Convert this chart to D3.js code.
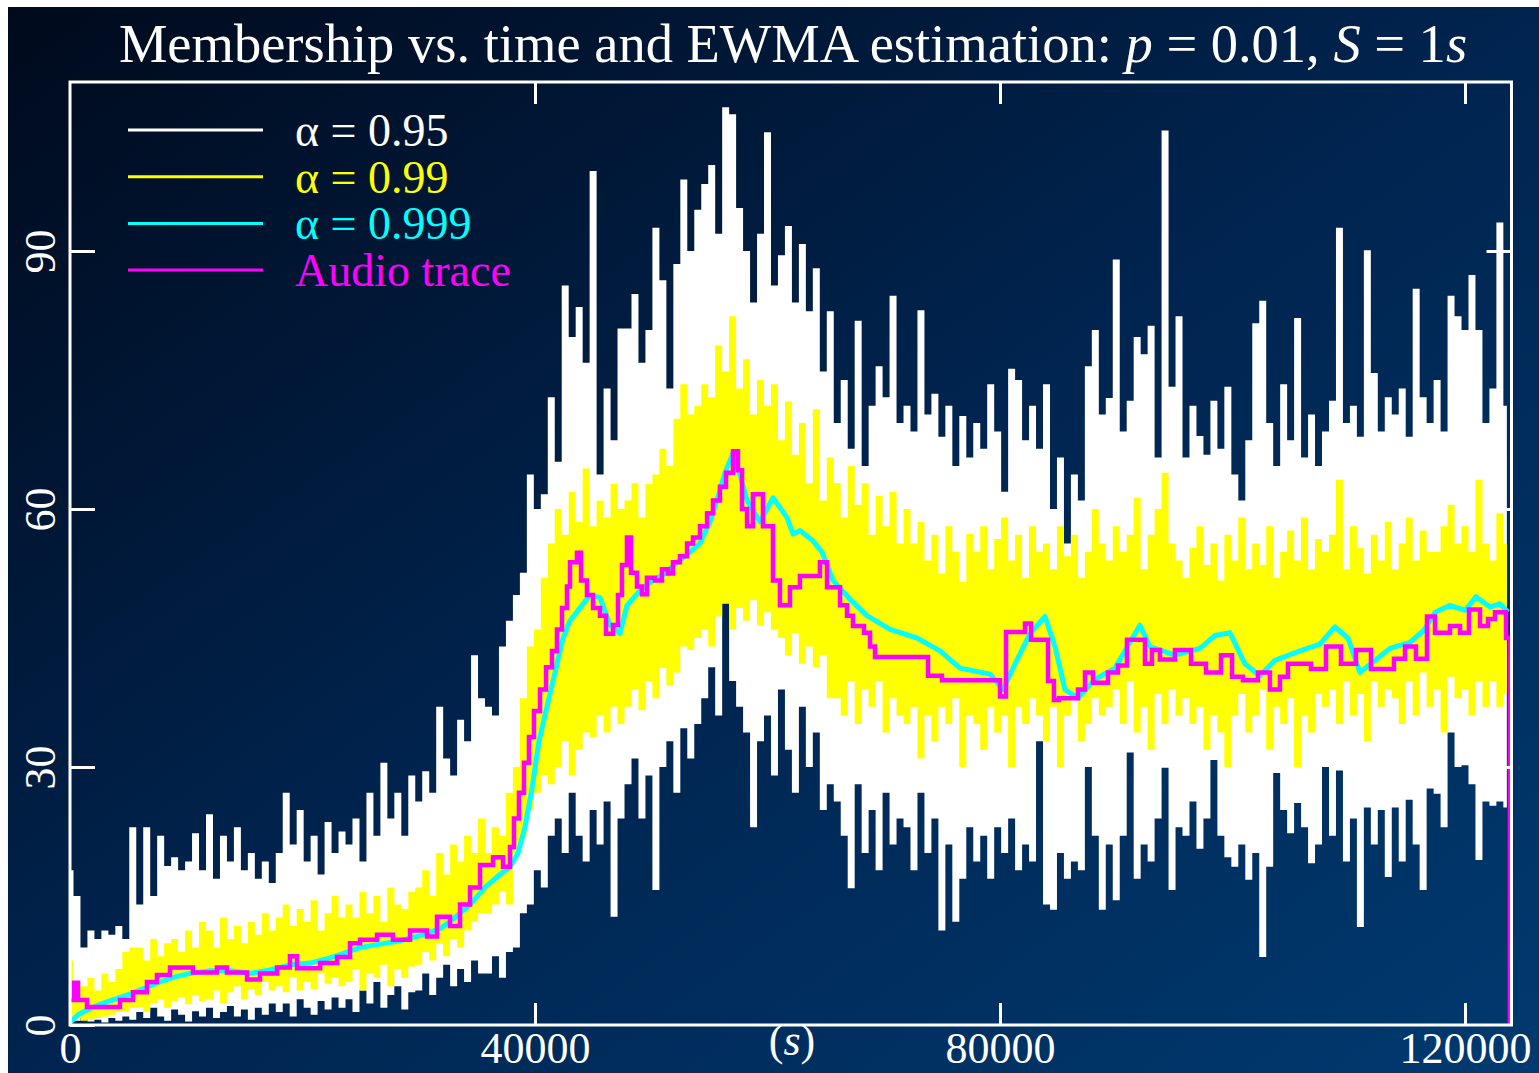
<!DOCTYPE html>
<html><head><meta charset="utf-8">
<script src="https://cdn.jsdelivr.net/npm/d3@7"></script>
<style>html,body{margin:0;padding:0;background:#fff;overflow:hidden} text{white-space:pre}</style>
</head><body><svg id="c" width="1539" height="1073"></svg>
<script>
// sampling interval of the alpha=0.95 / 0.99 envelopes (seconds)
const sampleStep = 600;

// alpha = 0.95 : upper / lower envelope per 600 s bin
const whiteHi = [
18,15,9,11,10,11,10.5,11.5,10,23,
14,23,15,22,18.5,19.5,18,19,22.3,18,
24.5,17,22,19,23,18,20,17,19,16.5,
20,27,21,25,19,22,17.5,23.6,20,22.5,
21,24,19,27,22,30.5,24,27,22,29,
26,29.5,27,37,31,29,35.5,33,43,38,
37,36,44,47,50,52.6,64,60,61.7,73,
65.5,86,80,83.5,77,99.3,64,74,68,81,
81,85,77,80.8,92.7,86.6,74,88.5,98.3,90,
94.8,97.8,100,92,106.7,105.9,95,90,84,92,
103.8,86,89.5,92.9,84,90.8,83,88,76,83,
70,75,67,81.9,65,72,76.6,73,84.8,70,
72,69,83.1,71,73.4,68.4,72,65,70.8,66,
70,67,74.5,69,62,76.3,75,68,72,67,
74.5,60,66,56,64,61,76.6,80.8,71,72.9,
89,69,72.6,80,78,81.3,66,104,74.2,82.4,
66,72,68.5,66.3,72.6,67,74.2,64,61,68,
81.6,84.2,70,65,74.5,68,82.2,66,71,65,
69,72.6,92.7,70,72,68.4,90.1,75.8,69,73,
71,74,68.4,85.6,73,70,75,69,84.8,82.4,
80.8,87.2,80.8,70,74,93.3,72];
const whiteLo = [
0.3,0.5,0.8,0.4,0.6,0.3,0.8,0.5,1,0.6,
1.5,0.8,2,1,0.5,1.8,1.2,0.4,1.6,1,
2,0.8,1.5,2.2,1,1.8,0.6,2,1.2,2.5,
1.5,2.5,1,3,2,1.2,2.8,1.8,3.2,2,
3,1.5,4,2.5,5,2,3.5,4.5,1.8,3.8,
4,6,3.5,5.5,7,4.5,6.5,5,7.5,6,
6,8,5.5,8.5,9,13,14,18,16,22,
24,20,27,22,19,25,21,26,12.6,24,
28,31,24,29,15.7,30,33,27,34.5,31,
35,38,41.6,36,49,40,37,34,23,33,
36,29,39,32,27,37,30,34,25,28,
26,22,15.9,28,20,25,18,27,21,24,
23,18,27,20,24,11,21,12,17,23,
19,22,17,23,20,24,18,21,19,33,
14,13.4,20,17,19,18,30,22,13.4,21,
14.5,22,31.7,17,21,19,24,29.9,15.7,23,
22,26,20.5,24,30.8,22,19.5,18.4,21,16.9,
20,7.9,18.4,29.3,25,22.3,25.8,23,18.8,21,
30,22,29.6,19,24,11.4,25.3,21,25,17.2,
25.3,19,26.2,21,15.7,27.5,26.9,23,34,30,
30.2,28,19.2,26,25.5,26,25.3];

// alpha = 0.99 : upper / lower envelope per 600 s bin
const yellowHi = [
7.5,5,4.5,5.5,4,6,5,6.5,8.5,9,
9,7.5,10,8,9.5,10,8.5,11,9,12,
11,9,12.5,10,11.5,9.5,12,10.5,13,11,
12.5,14,11.5,13.5,12,14.5,11,13,15,12.5,
14,12.5,15.5,13,15,12,16,14,13.5,15.5,
16,18,15,20,17.5,21,19,22,20,24,
20,23,22,27,30,38,44,46,52,56,
60,57,62,58.5,64.7,58,61,59,62.9,60,
61,63,59,62.9,64,67,65,70.5,74.5,71,
72,74.5,73,79,76,82.4,74,77.4,71,75,
72,74.5,68,72.5,66.3,70,63,71.6,61,66,
63,59,65,60.5,63,57,61.5,58,62,56,
60,56,58.5,54,57,52.5,58,55,51.5,57.1,
55,58,53,56.5,59,54,57,52,58,55,
56,53,58,54.5,57,52,55,60,56,54,
58,55,57,61.3,53,57,60,64.2,56,54,
52,55.5,58,53.5,56,51.7,57,54,59,53,
56,53.5,58,52,55,57.5,54,59,53,56.5,
55,57,63.4,53,58,55.5,52.5,57,54,58.5,
53,56,59,54,57.5,55,55,58,60.5,56,
58,55,63.4,56,54,59.5,56];
const yellowLo = [
1,0.8,0.5,0.6,0.8,1,1.2,1.5,1.5,2,
2,1.5,2.5,3,2,2.8,3.2,2.4,3.5,2.8,
3,4,2.5,3.8,4.5,3,4.2,3.5,5,4,
4.5,3.8,5.5,4,5,4.2,6,4.8,5.5,4.5,
5,6.5,4,6,5.5,7,4.5,6.5,5.5,6.8,
7,8.5,7.5,9.5,8,10,9,11,12,13,
13,14,15.5,14,20,22,25,27,29,28,
30,33,29,32,34,33.5,36,34,37,35,
37,39,36.6,40,38,41.5,39.5,41,44,43.6,
45,46,44,47.5,49,46,48.5,47,49.4,46.5,
48,46,45,43,45.5,42,44,41.6,43,38,
38,36,40,35,39,37,40,34,38,36,
35,37,31,36,33,37,35,38,30,36,
35,32,37,34,36,30,37,35,38,36,
33,37,30,36,38,33,35,38,36,37,
39,35,40,34,37,32,38.5,35,39,36,
38,35,37,32,36,34,30,36,38.5,34,
36,39,32,37,35,38,30,36,34,38.5,
37,39,35,40,36,38.5,33,40,37,39,
38,35,40,36,41,37,39,34,40.5,38,
39,36,40,37,40,37,38.5];

// alpha = 0.999 (time s, members)
const cyanT = [0,690,1550,2580,3870,5160,6450,7740,9030,10320,12040,13760,15480,17200,18920,20640,22370,23660,24950,26670,28390,30110,31830,33120,34410,35700,36990,37850,38540,39140,39740,40340,41200,41810,42410,43010,43870,44730,45590,46450,47310,47910,49030,50150,51180,51870,52900,54190,55050,55650,56340,57030,57630,58240,59350,60470,61680,62190,62790,63910,64690,65630,67100,68560,70540,72860,74840,76560,79140,80260,81290,82580,83870,84730,85590,86710,88170,89890,91180,92040,92900,95050,97200,98490,99780,101070,102360,103650,105800,107520,108810,109930,110960,111910,113540,115260,116470,117420,118710,120000,120940,122150,123010,123700];
const cyanV = [0.3,1.2,1.8,2.4,3.0,3.6,4.3,5.0,5.6,6.0,6.3,6.3,6.0,6.4,7.0,7.2,7.8,8.4,9.0,9.4,9.8,10.4,11.2,12.5,14.0,16.0,17.5,18.4,20.0,23.0,27.5,33.0,38.0,41.5,45.0,47.0,48.5,50.0,49.7,46.5,45.5,48.8,50.5,51.7,52.5,53.4,54.5,56.0,58.5,61.0,64.2,66.5,64.0,61.0,58.5,61.3,59.0,57.1,57.5,56.3,55.0,51.7,49.5,47.6,46.0,45.0,43.5,41.5,40.8,39.0,42.0,45.5,47.5,44.0,39.0,38.0,40.2,41.5,44.5,46.5,44.0,43.0,43.8,45.3,45.6,42.0,40.6,42.4,43.5,44.3,46.3,45.0,41.0,42.0,43.8,44.5,45.9,48.0,48.8,48.2,49.8,48.6,49.0,48.0];

// Audio trace (step function; time s, members)
const audioT = [0,340,690,1460,4300,5420,6620,7480,8600,10580,12640,13500,15230,16340,17810,18920,19530,21510,22970,24090,24950,26410,27780,29250,30710,31570,32690,33550,34410,35270,36390,37250,37850,38190,38620,39050,39480,39910,40430,40950,41460,41890,42320,42750,43010,43610,43960,44470,44990,45590,46110,46710,47140,47480,47910,48260,48770,49200,49630,50320,50920,51440,51870,52470,53080,53590,54190,54800,55310,55910,56430,57030,57460,57810,58240,58750,59610,60470,61070,61930,62790,64510,65120,66240,66840,67350,68300,68820,69250,73810,75010,80000,80520,82150,82670,84130,84640,85070,86710,87310,88000,89290,90150,90920,92470,93070,93760,95050,96430,97720,99010,99960,100900,102190,103220,104080,104770,106750,108040,109330,110620,111910,113890,114840,115780,116730,117420,118710,119570,120340,121290,121980,122580,123530,123870];
const audioV = [2.9,4.9,2.9,2.1,2.9,3.8,5.0,5.8,6.7,6.1,6.7,6.1,5.3,6.0,6.7,8.0,6.6,7.2,7.9,9.5,9.9,10.5,9.9,11.0,10.3,12.6,11.5,14.0,16.0,18.6,19.5,18.4,20.7,24,27,30.5,33.5,36.5,39,41.6,43.5,46,48.5,51,53.8,54.9,51.7,50,48.5,47.6,45.5,46.5,50,53.5,56.7,52.6,51,50.1,52,51.7,53,52.5,53.8,54.5,56,56.7,58,59.5,61,62.6,64.2,66.7,64.5,60,58,61.7,58,51.7,48.8,50.9,52.2,53.8,50.9,48.8,47.6,46.4,45.6,44,42.8,40.6,40.1,38.2,45.7,46.7,44.8,40,37.8,38,39,41,39.8,41,41.8,44.8,42,43.6,42.5,43.6,42,41,43,40.5,40.1,41,39,40.5,42,41.4,44,42,43.6,41.4,42.6,44,42.6,47.5,45.6,46.4,45.6,48.3,46.4,47.2,48,45,0];

const xTicks = [0, 40000, 80000, 120000];
const yTicks = [0, 30, 60, 90];
const legendLabels = ["\u03b1 = 0.95", "\u03b1 = 0.99", "\u03b1 = 0.999", "Audio trace"];
const legendColors = ["#ffffff", "#ffff00", "#00ffff", "#ff00ff"];

const W = 1539, H = 1073;
const L = 70, R = 1511.5, T = 82, B = 1025;
const svg = d3.select('#c');
const defs = svg.append('defs');
const grad = defs.append('linearGradient').attr('id','bg').attr('x1',0).attr('y1',0).attr('x2',1).attr('y2',1);
grad.append('stop').attr('offset','0%').attr('stop-color','#000a1c');
grad.append('stop').attr('offset','50%').attr('stop-color','#00244f');
grad.append('stop').attr('offset','100%').attr('stop-color','#003a70');
defs.append('clipPath').attr('id','clip').append('rect').attr('x',L).attr('y',T).attr('width',R-L).attr('height',B-T);

svg.append('rect').attr('x',8).attr('y',7).attr('width',W-8).attr('height',H-7).attr('fill','url(#bg)');

const x = d3.scaleLinear().domain([0,124000]).range([L,R]);
const y = d3.scaleLinear().domain([0,109.65]).range([B,T]);
const times = whiteHi.map((_, i) => i * sampleStep);

const plot = svg.append('g').attr('clip-path','url(#clip)');
const envelope = (hi, lo) => d3.area()
  .x((d,i) => x(times[i])).y0((d,i) => y(lo[i])).y1((d,i) => y(hi[i])).curve(d3.curveStep);
plot.append('path').datum(whiteHi).attr('d', envelope(whiteHi, whiteLo)).attr('fill','#ffffff');
plot.append('path').datum(yellowHi).attr('d', envelope(yellowHi, yellowLo)).attr('fill','#ffff00');
plot.append('path').datum(cyanT)
  .attr('d', d3.line().x((d,i)=>x(cyanT[i])).y((d,i)=>y(cyanV[i])))
  .attr('fill','none').attr('stroke','#00ffff').attr('stroke-width',5).attr('stroke-linejoin','round');
plot.append('path').datum(audioT)
  .attr('d', d3.line().x((d,i)=>x(audioT[i])).y((d,i)=>y(audioV[i])).curve(d3.curveStepAfter))
  .attr('fill','none').attr('stroke','#ff00ff').attr('stroke-width',4.5);

// frame
svg.append('rect').attr('x',L).attr('y',T).attr('width',R-L).attr('height',B-T)
  .attr('fill','none').attr('stroke','#ffffff').attr('stroke-width',3);

const font = 'Liberation Serif, Times New Roman, serif';
function styleAxis(g){
  g.select('.domain').remove();
  g.selectAll('line').attr('stroke','#ffffff').attr('stroke-width',3);
  g.selectAll('text').attr('fill','#ffffff').attr('font-family',font).attr('font-size',44);
}
svg.append('g').attr('transform',`translate(0,${B})`)
  .call(d3.axisBottom(x).tickValues(xTicks).tickSize(-22).tickPadding(7).tickFormat(d3.format('d')))
  .call(styleAxis);
svg.append('g').attr('transform',`translate(0,${T})`)
  .call(d3.axisTop(x).tickValues(xTicks.slice(1)).tickSize(-22).tickFormat(''))
  .call(styleAxis);
svg.append('g').attr('transform',`translate(${L},0)`)
  .call(d3.axisLeft(y).tickValues(yTicks).tickSize(-25).tickFormat(d3.format('d')))
  .call(styleAxis)
  .call(g => g.selectAll('text').attr('transform','rotate(-90)').attr('x',0).attr('y',-15).attr('dy',0).attr('text-anchor','middle'));
svg.append('g').attr('transform',`translate(${R},0)`)
  .call(d3.axisRight(y).tickValues(yTicks.slice(1)).tickSize(-25).tickFormat(''))
  .call(styleAxis);

// x unit label
const unit = svg.append('text').attr('x',792).attr('y',1055).attr('text-anchor','middle')
  .attr('font-family',font).attr('font-size',44).attr('fill','#ffffff');
unit.append('tspan').text('(');
unit.append('tspan').attr('font-style','italic').text('s');
unit.append('tspan').text(')');

// title
const title = svg.append('text').attr('x',793).attr('y',62).attr('text-anchor','middle')
  .attr('font-family',font).attr('font-size',54.5).attr('fill','#ffffff');
title.append('tspan').text('Membership vs. time and EWMA estimation: ');
title.append('tspan').attr('font-style','italic').text('p');
title.append('tspan').text(' = 0.01, ');
title.append('tspan').attr('font-style','italic').text('S');
title.append('tspan').text(' = 1');
title.append('tspan').attr('font-style','italic').text('s');

// legend
const leg = svg.append('g');
legendLabels.forEach((lab, i) => {
  const yy = 130 + i * 46.7;
  leg.append('line').attr('x1',128).attr('x2',263).attr('y1',yy).attr('y2',yy)
    .attr('stroke',legendColors[i]).attr('stroke-width',3);
  leg.append('text').attr('x',295).attr('y',yy+16).attr('font-family',font).attr('font-size',46)
    .attr('fill',legendColors[i]).text(lab);
});
</script></body></html>
